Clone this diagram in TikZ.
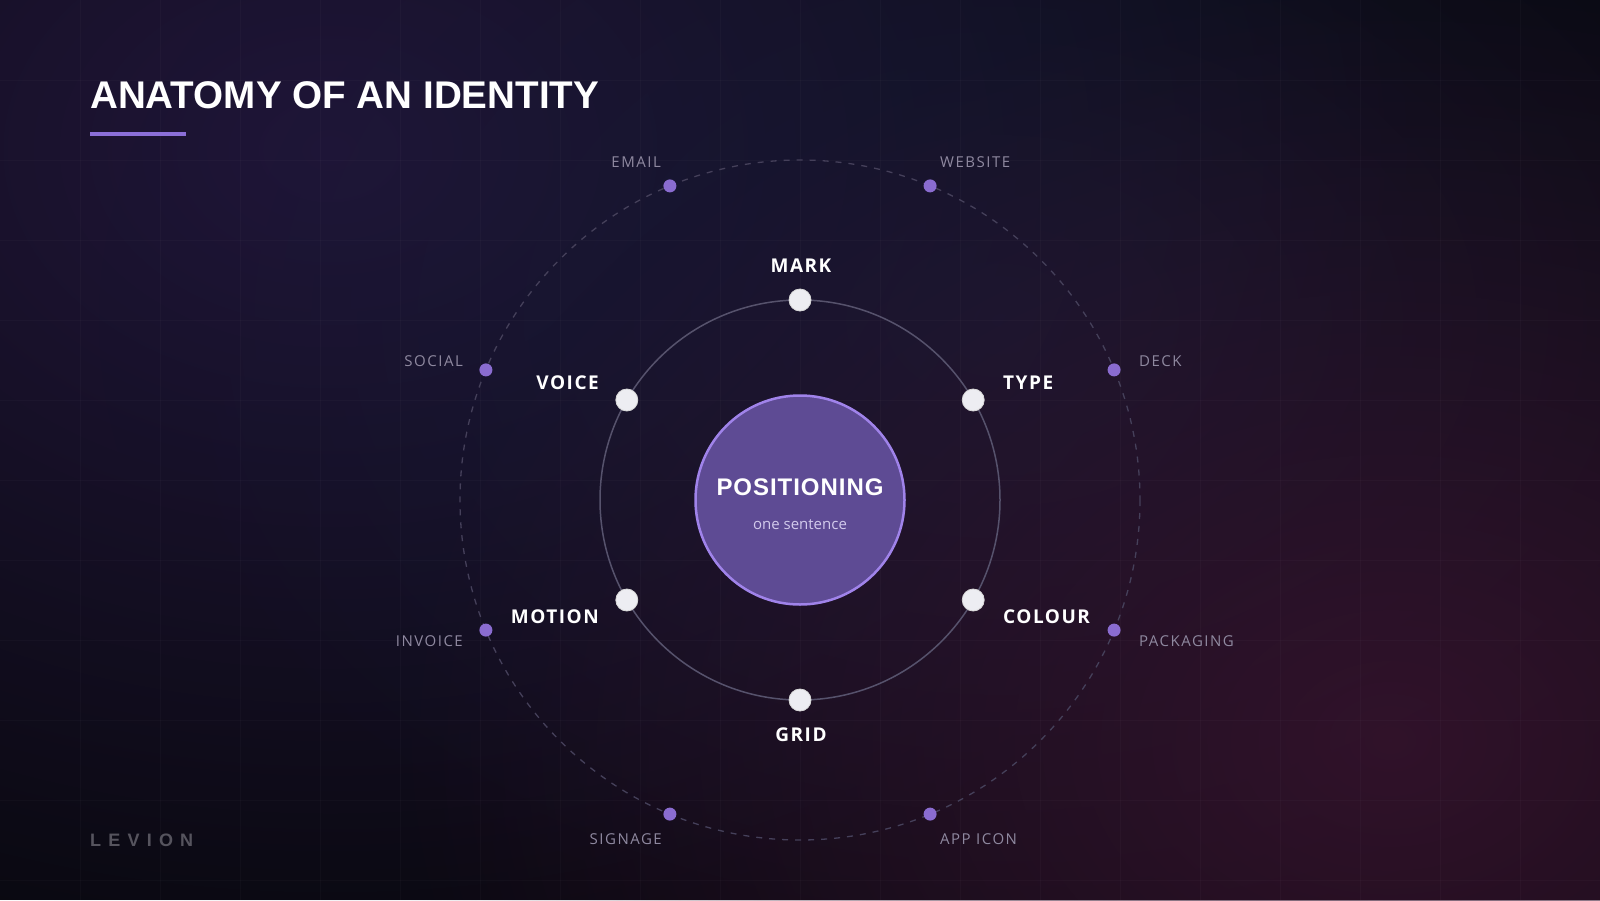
\documentclass[tikz,border=0pt]{standalone}
\usepackage{fontspec}
\setmainfont{Liberation Sans}
\newfontfamily\titlefont{Liberation Sans}
\newfontfamily\posfont[LetterSpace=4]{Liberation Sans}
\newfontfamily\levionfont[LetterSpace=40]{Liberation Sans}
\newfontfamily\bigfont[LetterSpace=8]{Open Sans}
\newfontfamily\smallfont[LetterSpace=10]{Open Sans}
\newfontfamily\plainfont{Open Sans}
\usetikzlibrary{fadings}
\definecolor{bgbase}{HTML}{0A0911}
\definecolor{glowpurple}{HTML}{281A46}
\definecolor{glownavy}{HTML}{161B36}
\definecolor{glowred}{HTML}{3A142F}
\definecolor{accent}{HTML}{8B6FD8}
\definecolor{ringcol}{HTML}{56526C}
\definecolor{dashcol}{HTML}{45405A}
\definecolor{dotwhite}{HTML}{EDEDF2}
\definecolor{dotpurple}{HTML}{8A6CD0}
\definecolor{corefill}{HTML}{5E4B94}
\definecolor{coreline}{HTML}{A083EA}
\definecolor{smallgrey}{HTML}{8F89A0}
\definecolor{subtext}{HTML}{D2CAEC}
\definecolor{levgrey}{HTML}{56545E}
\tikzfading[name=glow, inner color=transparent!0, outer color=transparent!100]
\tikzset{
  innerdot/.style={circle, fill=dotwhite, draw=white!70!gray, line width=0.8pt, minimum size=22pt, inner sep=0pt},
  outerdot/.style={circle, fill=dotpurple, minimum size=13pt, inner sep=0pt},
  biglabel/.style={inner sep=0pt, text=white, font=\bigfont\bfseries\fontsize{19}{22}\selectfont},
  smalllabel/.style={inner sep=0pt, text=smallgrey, font=\smallfont\fontsize{15}{18}\selectfont},
  ring/.style={draw=ringcol, line width=1.5pt},
  dashring/.style={draw=dashcol, line width=1.3pt, dash pattern=on 6pt off 7pt},
}
\begin{document}
\begin{tikzpicture}[x=1pt, y=-1pt]
\useasboundingbox (0,0) rectangle (1600,900);
% background
\fill[bgbase] (0,0) rectangle (1600,900);
\begin{scope}
\clip (0,0) rectangle (1600,900);
\fill[glowpurple, path fading=glow, fill opacity=0.75] (330,150) ellipse (1100 and 800);
\fill[glownavy, path fading=glow, fill opacity=0.7] (1000,320) ellipse (900 and 640);
\fill[glowred, path fading=glow, fill opacity=0.8] (1390,740) ellipse (1000 and 760);
\foreach \gx in {80,160,...,1520} {\draw[white, opacity=0.025, line width=1pt] (\gx,0) -- (\gx,900);}
\foreach \gy in {80,160,...,880} {\draw[white, opacity=0.025, line width=1pt] (0,\gy) -- (1600,\gy);}
\end{scope}
% title
\node[anchor=base west, inner sep=0pt, text=white, font=\titlefont\bfseries\fontsize{38.6}{42}\selectfont] (title) at (90,108) {ANATOMY OF AN IDENTITY};
\fill[accent] (90,132) rectangle (186,136);
% rings
\draw[dashring] (800,500) circle (340);
\draw[ring] (800,500) circle (200);
% core
\node[circle, minimum size=209pt, fill=corefill, draw=coreline, line width=2.5pt] (core) at (800,500) {};
\node[anchor=base, inner sep=0pt, text=white, font=\posfont\bfseries\fontsize{24}{28}\selectfont] (pos) at (800,495) {POSITIONING};
\node[anchor=base, inner sep=0pt, text=subtext, font=\plainfont\fontsize{15}{18}\selectfont] (sent) at (800,529) {one sentence};
% inner dots
\node[innerdot] (mark) at (800,300) {};
\node[innerdot] (type) at (973.2,400) {};
\node[innerdot] (colour) at (973.2,600) {};
\node[innerdot] (grid) at (800,700) {};
\node[innerdot] (motion) at (626.8,600) {};
\node[innerdot] (voice) at (626.8,400) {};
% inner labels
\node[biglabel, anchor=base] (markl) at (801,272) {MARK};
\node[biglabel, anchor=base west] (typel) at (1003,389) {TYPE};
\node[biglabel, anchor=base west] (colourl) at (1003,623) {COLOUR};
\node[biglabel, anchor=base] (gridl) at (801,741) {GRID};
\node[biglabel, anchor=base east] (motionl) at (599,623) {MOTION};
\node[biglabel, anchor=base east] (voicel) at (599,389) {VOICE};
% outer dots
\node[outerdot] (website) at (930.1,185.9) {};
\node[outerdot] (email) at (669.9,185.9) {};
\node[outerdot] (social) at (485.9,369.9) {};
\node[outerdot] (invoice) at (485.9,630.1) {};
\node[outerdot] (signage) at (669.9,814.1) {};
\node[outerdot] (appicon) at (930.1,814.1) {};
\node[outerdot] (packaging) at (1114.1,630.1) {};
\node[outerdot] (deck) at (1114.1,369.9) {};
% outer labels
\node[smalllabel, anchor=base east] (emaill) at (661,167.5) {EMAIL};
\node[smalllabel, anchor=base west] (websitel) at (940,167.5) {WEBSITE};
\node[smalllabel, anchor=base east] (sociall) at (463,366) {SOCIAL};
\node[smalllabel, anchor=base west] (deckl) at (1139,366) {DECK};
\node[smalllabel, anchor=base east] (invoicel) at (463,646) {INVOICE};
\node[smalllabel, anchor=base west] (packagingl) at (1139,646) {PACKAGING};
\node[smalllabel, anchor=base east] (signagel) at (662,844) {SIGNAGE};
\node[smalllabel, anchor=base west] (appiconl) at (940,844) {APP ICON};
% footer
\node[anchor=base west, inner sep=0pt, text=levgrey, font=\levionfont\bfseries\fontsize{18}{20}\selectfont] (levion) at (90,846) {LEVION};
\end{tikzpicture}
\end{document}
